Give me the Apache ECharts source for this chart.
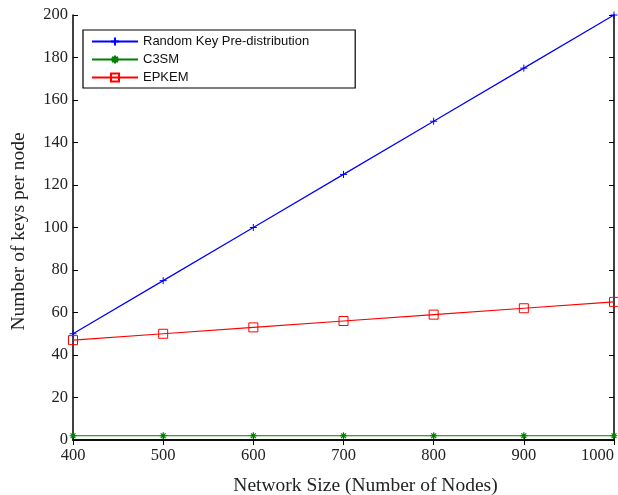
<!DOCTYPE html>
<html>
<head>
<meta charset="utf-8">
<script src="https://cdn.jsdelivr.net/npm/echarts@6/dist/echarts.min.js"></script>
<style>
  html, body { margin: 0; padding: 0; background: #fff; }
  #chart { width: 618px; height: 495px; }
</style>
</head>
<body>
<div id="chart"></div>
<script>
// network sizes (x) and keys per node for each scheme
const nodes = [400, 500, 600, 700, 800, 900, 1000];
const randomKey = [50, 75, 100, 125, 150, 175, 200];
const c3sm = [2, 2, 2, 2, 2, 2, 2];
const epkem = [47, 50, 53, 56, 59, 62, 65];

const pair = (vals) => nodes.map((n, i) => [n, vals[i]]);

const plusSym = 'path://M5,0L5,10M0,5L10,5';
const starSym = 'path://M5,0L5,10M0,5L10,5M1.5,1.5L8.5,8.5M8.5,1.5L1.5,8.5';

const serif = 'Liberation Serif';
const ink = '#222';

let myChart = echarts.init(document.getElementById('chart'));

let option = {
  animation: false,
  backgroundColor: '#fff',
  grid: { left: 73, right: 4, top: 15, bottom: 55, outerBoundsMode: 'none', containLabel: false },
  legend: {
    orient: 'vertical',
    left: 83,
    top: 30,
    padding: [5, 46, 4, 8],
    itemWidth: 46,
    itemHeight: 10,
    itemGap: 5,
    borderColor: '#000',
    borderWidth: 1.2,
    borderRadius: 0,
    textStyle: { fontFamily: 'Liberation Sans', fontSize: 13, color: '#111' },
    data: ['Random Key Pre-distribution', 'C3SM', 'EPKEM']
  },
  xAxis: [
    {
      type: 'value',
      min: 400, max: 1000, interval: 100,
      name: 'Network Size (Number of Nodes)',
      nameLocation: 'middle',
      nameGap: 36,
      nameTextStyle: { fontFamily: serif, fontSize: 19.5, color: ink, padding: [0, 0, 0, 44] },
      axisLine: { lineStyle: { color: '#000', width: 1.5 } },
      axisTick: { inside: true, length: 5, lineStyle: { color: '#000' } },
      axisLabel: { fontFamily: serif, fontSize: 16.5, color: ink, margin: 7, alignMaxLabel: 'right', formatter: (v) => String(v) },
      splitLine: { show: false }
    },
    {
      type: 'value', position: 'top',
      min: 400, max: 1000, interval: 100,
      axisLine: { lineStyle: { color: '#000', width: 1.5 } },
      axisTick: { inside: true, length: 5, lineStyle: { color: '#000' } },
      axisLabel: { show: false },
      splitLine: { show: false }
    }
  ],
  yAxis: [
    {
      type: 'value',
      min: 0, max: 200, interval: 20,
      name: 'Number of keys per node',
      nameLocation: 'middle',
      nameGap: 44,
      nameTextStyle: { fontFamily: serif, fontSize: 19.5, color: ink, padding: [0, 8, 0, 0] },
      axisLine: { show: true, lineStyle: { color: '#000', width: 1.5 } },
      axisTick: { show: true, inside: true, length: 5, lineStyle: { color: '#000' } },
      axisLabel: { fontFamily: serif, fontSize: 16.5, color: ink, margin: 5 },
      splitLine: { show: false }
    },
    {
      type: 'value', position: 'right',
      min: 0, max: 200, interval: 20,
      axisLine: { show: true, lineStyle: { color: '#000', width: 1.5 } },
      axisTick: { show: true, inside: true, length: 5, lineStyle: { color: '#000' } },
      axisLabel: { show: false },
      splitLine: { show: false }
    }
  ],
  series: [
    {
      name: 'Random Key Pre-distribution',
      type: 'line',
      data: pair(randomKey),
      symbol: plusSym,
      symbolSize: 7,
      lineStyle: { color: '#0000ff', width: 1.2 },
      itemStyle: { color: '#0000ff', borderColor: '#0000ff', borderWidth: 1 }
    },
    {
      name: 'C3SM',
      type: 'line',
      data: pair(c3sm),
      symbol: starSym,
      symbolSize: 7,
      lineStyle: { color: '#008000', width: 1.2 },
      itemStyle: { color: '#008000', borderColor: '#008000', borderWidth: 1.2 }
    },
    {
      name: 'EPKEM',
      type: 'line',
      data: pair(epkem),
      symbol: 'rect',
      symbolSize: 9,
      lineStyle: { color: '#ff0000', width: 1.2 },
      itemStyle: { color: 'rgba(255,255,255,0)', borderColor: '#ff0000', borderWidth: 1 }
    }
  ]
};

myChart.setOption(option);
</script>
</body>
</html>
